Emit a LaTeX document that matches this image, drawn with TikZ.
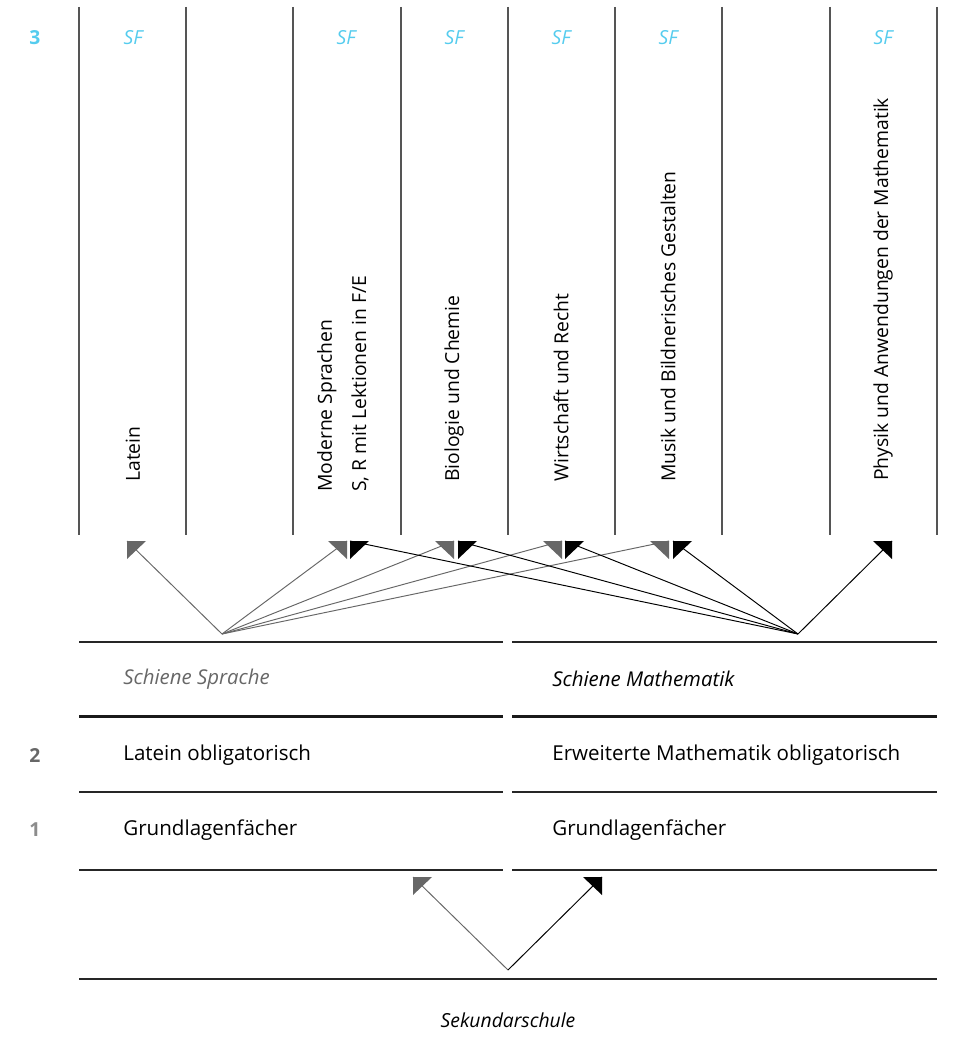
\documentclass[tikz,border=0pt]{standalone}
\usepackage{fontspec}
\setmainfont{Open Sans}
\usepackage{xcolor}
\usetikzlibrary{positioning}
\definecolor{sfblue}{HTML}{55CCEE}
\definecolor{tipgray}{HTML}{676767}
\definecolor{rulegray}{HTML}{555555}
\tikzstyle{col}    = [rulegray, line width=0.75pt]
\tikzstyle{rule}   = [black!85, line width=0.75pt]
\tikzstyle{thick rule} = [black!90, line width=1.7pt]
\tikzstyle{subj}   = [rotate=90, anchor=west, inner sep=0pt, font=\fontsize{11}{13}\selectfont, align=left]
\tikzstyle{sf}     = [sfblue, font=\fontsize{11}{13}\selectfont\itshape]
\tikzstyle{level}  = [font=\fontsize{11}{13}\selectfont\bfseries]
\tikzstyle{label}  = [anchor=west, inner sep=0pt, font=\fontsize{11.7}{14}\selectfont]
\tikzstyle{track}  = [anchor=west, inner sep=0pt, font=\fontsize{11.6}{14}\selectfont\itshape]
\tikzstyle{gline}  = [tipgray, line width=0.55pt]
\tikzstyle{bline}  = [black, line width=0.55pt]
% right-angled tips, corner at the end of the line
\newcommand{\tipleft}[2]{\fill[#1] (#2) -- ++(19,0) -- ++(-19,18) -- cycle;}
\newcommand{\tipright}[2]{\fill[#1] (#2) -- ++(-19,0) -- ++(19,18) -- cycle;}

\begin{document}
\begin{tikzpicture}[x=0.02cm, y=-0.02cm]
    \useasboundingbox (0,0) rectangle (953,1054);
    % columns of level 3
    \foreach \x in {79,186,293,401,508,615,722,830,937}
        \draw [col] (\x,7) -- (\x,535);
    \node (lvl3) [level, sfblue] at (35,38) {3};
    \node (sf1) [sf] at (133,38) {SF};
    \node (sf3) [sf] at (346,38) {SF};
    \node (sf4) [sf] at (454,38) {SF};
    \node (sf5) [sf] at (561,38) {SF};
    \node (sf6) [sf] at (668,38) {SF};
    \node (sf8) [sf] at (883,38) {SF};
    \node (latein)   [subj] at (133,482) {Latein};
    \node (moderne)  [subj] at (343,492) {Moderne Sprachen\\[6.5pt]S, R mit Lektionen in F/E};
    \node (bio)      [subj] at (454,482) {Biologie und Chemie};
    \node (wirt)     [subj] at (561,482) {Wirtschaft und Recht};
    \node (musik)    [subj] at (668,482) {Musik und Bildnerisches Gestalten};
    \node (physik)   [subj] at (883,481) {Physik und Anwendungen der Mathematik};

    % tips below the columns
    \coordinate (gLat) at (127,541);
    \coordinate (gMod) at (347,541);
    \coordinate (gBio) at (454,541);
    \coordinate (gWir) at (562,541);
    \coordinate (gMus) at (669,541);
    \coordinate (bMod) at (350,541);
    \coordinate (bBio) at (458,541);
    \coordinate (bWir) at (565,541);
    \coordinate (bMus) at (673,541);
    \coordinate (bPhy) at (892,541);
    \coordinate (srcS) at (222,634);
    \coordinate (srcM) at (798,634);
    \draw [gline] (srcS) -- (gLat);
    \draw [gline] (srcS) -- (gMod);
    \draw [gline] (srcS) -- (gBio);
    \draw [gline] (srcS) -- (gWir);
    \draw [gline] (srcS) -- (gMus);
    \draw [bline] (srcM) -- (bMod);
    \draw [bline] (srcM) -- (bBio);
    \draw [bline] (srcM) -- (bWir);
    \draw [bline] (srcM) -- (bMus);
    \draw [bline] (srcM) -- (bPhy);
    \tipleft{tipgray}{gLat}
    \tipright{tipgray}{gMod}
    \tipright{tipgray}{gBio}
    \tipright{tipgray}{gWir}
    \tipright{tipgray}{gMus}
    \tipleft{black}{bMod}
    \tipleft{black}{bBio}
    \tipleft{black}{bWir}
    \tipleft{black}{bMus}
    \tipright{black}{bPhy}

    % the two tracks
    \draw [rule] (79,642) -- (503,642);
    \draw [rule] (512,642) -- (937,642);
    \node (sprache) [track, tipgray] at (123,679) {Schiene Sprache};
    \node (mathe)   [track] at (552,679) {Schiene Mathematik};
    \draw [thick rule] (79,716) -- (503,716);
    \draw [thick rule] (512,716) -- (937,716);
    \node (lvl2) [level, tipgray] at (35,755) {2};
    \node (latob)  [label] at (123,755) {Latein obligatorisch};
    \node (matob)  [label] at (552,755) {Erweiterte Mathematik obligatorisch};
    \draw [rule] (79,792) -- (503,792);
    \draw [rule] (512,792) -- (937,792);
    \node (lvl1) [level, black!45] at (35,830) {1};
    \node (grundS) [label] at (123,830) {Grundlagenfächer};
    \node (grundM) [label] at (552,830) {Grundlagenfächer};
    \draw [rule] (79,870) -- (503,870);
    \draw [rule] (512,870) -- (937,870);

    % from the Sekundarschule
    \coordinate (gSek) at (413,877);
    \coordinate (bSek) at (602,877);
    \coordinate (srcK) at (508,970);
    \draw [gline] (srcK) -- (gSek);
    \draw [bline] (srcK) -- (bSek);
    \tipleft{tipgray}{gSek}
    \tipright{black}{bSek}
    \draw [rule] (79,979) -- (937,979);
    \node (sek) [font=\fontsize{11}{13}\selectfont\itshape] at (508,1020) {Sekundarschule};
\end{tikzpicture}
\end{document}
